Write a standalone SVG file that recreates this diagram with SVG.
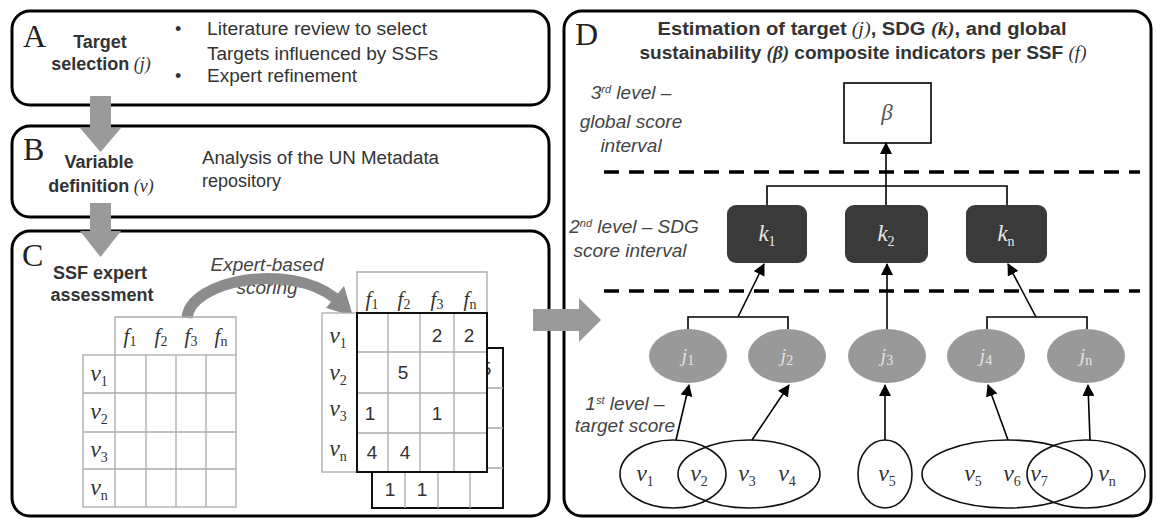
<svg xmlns="http://www.w3.org/2000/svg" width="1156" height="519" viewBox="0 0 1156 519">
<defs>
<marker id="ah" viewBox="0 0 12 12" refX="11" refY="6" markerWidth="12" markerHeight="12" markerUnits="userSpaceOnUse" orient="auto"><path d="M0,0 L12,6 L0,12 z" fill="#000"/></marker>
<style>
.box{fill:#fff;stroke:#000;stroke-width:3}
.t{font-family:"Liberation Sans",Arial,sans-serif;font-size:18px;fill:#333}
.b{font-weight:bold}
.lt{font-family:"Liberation Serif","Times New Roman",serif;font-size:32px;fill:#222}
.m{font-family:"Liberation Serif","Times New Roman",serif;font-style:italic;font-weight:normal}
.mb{font-family:"Liberation Serif","Times New Roman",serif;font-style:italic;font-weight:bold}
.it{font-family:"Liberation Sans",Arial,sans-serif;font-style:italic;font-size:19px;fill:#444}
.g{stroke:#aaa;stroke-width:1.3;fill:none}
.gf{fill:#fff;stroke:#aaa;stroke-width:1.3}
.bk{fill:#fff;stroke:#111;stroke-width:2}
.k{fill:#3a3a3a}
.j{fill:#999}
.conn{stroke:#000;stroke-width:1.6;fill:none}
.ve{stroke:#111;stroke-width:1.6;fill:none}
.dash{stroke:#000;stroke-width:3.5;stroke-dasharray:15 10}
.vl{font-family:"Liberation Serif","Times New Roman",serif;font-style:italic;font-size:24px;fill:#333}
.fl{font-family:"Liberation Serif","Times New Roman",serif;font-style:italic;font-size:21px;fill:#333}
.sub{font-size:14px;font-style:normal}
.num{font-family:"Liberation Sans",Arial,sans-serif;font-size:19px;fill:#333}
.jl{font-family:"Liberation Serif","Times New Roman",serif;font-style:italic;font-size:19px;fill:#e6e6e6}
.kl{font-family:"Liberation Serif","Times New Roman",serif;font-style:italic;font-size:23px;fill:#e6e6e6}
.garrow{fill:#9a9a9a}
</style>
</defs>

<g id="boxA">
<rect class="box" x="12" y="11" width="537" height="94" rx="18"/>
<text class="lt" x="23" y="47">A</text>
<text class="t b" x="100" y="48" text-anchor="middle">Target</text>
<text class="t b" x="101" y="70" text-anchor="middle">selection<tspan class="m"> (j)</tspan></text>
<text class="t" x="175" y="35">•</text>
<text class="t" x="175" y="82">•</text>
<text class="t" x="207" y="35" textLength="220" lengthAdjust="spacingAndGlyphs">Literature review to select</text>
<text class="t" x="207" y="60" textLength="231" lengthAdjust="spacingAndGlyphs">Targets influenced by SSFs</text>
<text class="t" x="207" y="82" textLength="150" lengthAdjust="spacingAndGlyphs">Expert refinement</text>
</g>

<g id="boxB">
<rect class="box" x="12" y="126" width="537" height="91" rx="18"/>
<text class="lt" x="23" y="160">B</text>
<text class="t b" x="99" y="168" text-anchor="middle">Variable</text>
<text class="t b" x="101" y="192" text-anchor="middle">definition<tspan class="m"> (v)</tspan></text>
<text class="t" x="202" y="164" textLength="237" lengthAdjust="spacingAndGlyphs">Analysis of the UN Metadata</text>
<text class="t" x="202" y="187">repository</text>
</g>

<g id="boxC">
<rect class="box" x="12" y="231" width="537" height="285" rx="18"/>
<text class="lt" x="22" y="266">C</text>
<text class="t b" x="100" y="279" text-anchor="middle">SSF expert</text>
<text class="t b" x="102" y="301" text-anchor="middle">assessment</text>
<text class="it" x="267" y="271" text-anchor="middle">Expert-based</text>
<text class="it" x="267" y="294" text-anchor="middle">scoring</text>
<path d="M187,318 C190,280 290,262 335,298" stroke="#8c8c8c" stroke-width="11" fill="none"/>
<polygon points="326,308 344,286 353,316" fill="#8c8c8c"/>

<g id="tableLeft">
<path class="g" d="M115,355 V317 H236 V355"/>
<rect class="g" x="83" y="355" width="153" height="152"/>
<path class="g" d="M115,355 V507 M146,355 V507 M176,355 V507 M206,355 V507 M83,393 H236 M83,432 H236 M83,469 H236"/>
<text class="fl" x="130" y="343" text-anchor="middle">f<tspan class="sub" dy="3">1</tspan></text>
<text class="fl" x="161" y="343" text-anchor="middle">f<tspan class="sub" dy="3">2</tspan></text>
<text class="fl" x="191" y="343" text-anchor="middle">f<tspan class="sub" dy="3">3</tspan></text>
<text class="fl" x="221" y="343" text-anchor="middle">f<tspan class="sub" dy="3">n</tspan></text>
<text class="vl" x="99" y="381" text-anchor="middle">v<tspan class="sub" dy="5">1</tspan></text>
<text class="vl" x="99" y="419" text-anchor="middle">v<tspan class="sub" dy="5">2</tspan></text>
<text class="vl" x="99" y="457" text-anchor="middle">v<tspan class="sub" dy="5">3</tspan></text>
<text class="vl" x="99" y="495" text-anchor="middle">v<tspan class="sub" dy="5">n</tspan></text>
</g>

<g id="tableBack">
<rect class="bk" x="372" y="348" width="131" height="160"/>
<path class="g" d="M405,348 V508 M438,348 V508 M470,348 V508 M372,388 H503 M372,428 H503 M372,468 H503"/>
<text class="num" x="486" y="375" text-anchor="middle">5</text>
<text class="num" x="390" y="496" text-anchor="middle">1</text>
<text class="num" x="422" y="496" text-anchor="middle">1</text>
</g>

<g id="tableFront">
<path class="gf" d="M357,313 V272 H487 V313"/>
<rect class="gf" x="322" y="313" width="35" height="159"/>
<rect fill="#fff" x="357" y="313" width="130" height="159"/>
<path class="g" d="M388,313 V472 M420,313 V472 M454,313 V472 M357,352 H487 M357,393 H487 M357,433 H487"/>
<rect fill="none" stroke="#111" stroke-width="2" x="357" y="313" width="130" height="159"/>
<text class="fl" x="372" y="306" text-anchor="middle">f<tspan class="sub" dy="3">1</tspan></text>
<text class="fl" x="404" y="306" text-anchor="middle">f<tspan class="sub" dy="3">2</tspan></text>
<text class="fl" x="437" y="306" text-anchor="middle">f<tspan class="sub" dy="3">3</tspan></text>
<text class="fl" x="470" y="306" text-anchor="middle">f<tspan class="sub" dy="3">n</tspan></text>
<text class="vl" x="338" y="343" text-anchor="middle">v<tspan class="sub" dy="5">1</tspan></text>
<text class="vl" x="338" y="380" text-anchor="middle">v<tspan class="sub" dy="5">2</tspan></text>
<text class="vl" x="338" y="416" text-anchor="middle">v<tspan class="sub" dy="5">3</tspan></text>
<text class="vl" x="338" y="456" text-anchor="middle">v<tspan class="sub" dy="5">n</tspan></text>
<text class="num" x="437" y="342" text-anchor="middle">2</text>
<text class="num" x="469" y="342" text-anchor="middle">2</text>
<text class="num" x="403" y="379" text-anchor="middle">5</text>
<text class="num" x="370" y="420" text-anchor="middle">1</text>
<text class="num" x="437" y="420" text-anchor="middle">1</text>
<text class="num" x="372" y="459" text-anchor="middle">4</text>
<text class="num" x="405" y="459" text-anchor="middle">4</text>
</g>
</g>

<g id="boxD">
<rect class="box" x="564" y="11" width="587" height="505" rx="18"/>
<text class="lt" x="575" y="45">D</text>
<text class="t b" x="862" y="35" text-anchor="middle" font-size="17" textLength="409" lengthAdjust="spacingAndGlyphs">Estimation of target<tspan class="m"> (j)</tspan>, SDG <tspan class="mb">(k)</tspan>, and global</text>
<text class="t b" x="863" y="59" text-anchor="middle" font-size="17" textLength="447" lengthAdjust="spacingAndGlyphs">sustainability <tspan class="mb">(β)</tspan> composite indicators per SSF <tspan class="m">(f)</tspan></text>
<text class="it" x="631" y="99" text-anchor="middle">3<tspan font-size="11" dy="-6">rd</tspan><tspan dy="6"> level –</tspan></text>
<text class="it" x="631" y="128" text-anchor="middle">global score</text>
<text class="it" x="631" y="152" text-anchor="middle">interval</text>
<text class="it" x="634" y="233" text-anchor="middle">2<tspan font-size="11" dy="-6">nd</tspan><tspan dy="6"> level – SDG</tspan></text>
<text class="it" x="630" y="257" text-anchor="middle">score interval</text>
<text class="it" x="625" y="410" text-anchor="middle">1<tspan font-size="11" dy="-6">st</tspan><tspan dy="6"> level –</tspan></text>
<text class="it" x="625" y="432" text-anchor="middle">target score</text>
<line class="dash" x1="604" y1="172" x2="1140" y2="172"/>
<line class="dash" x1="604" y1="291" x2="1140" y2="291"/>
</g>

<g id="beta">
<rect x="844" y="83" width="87" height="60" fill="#fff" stroke="#000" stroke-width="1.6"/>
<text class="kl" x="887" y="120" text-anchor="middle" style="fill:#555">β</text>
</g>
<g id="k1"><rect class="k" x="727" y="205" width="80" height="58" rx="9"/><text class="kl" x="767" y="241" text-anchor="middle">k<tspan class="sub" dy="5">1</tspan></text></g>
<g id="k2"><rect class="k" x="845" y="205" width="83" height="58" rx="9"/><text class="kl" x="886" y="241" text-anchor="middle">k<tspan class="sub" dy="5">2</tspan></text></g>
<g id="kn"><rect class="k" x="966" y="205" width="81" height="58" rx="9"/><text class="kl" x="1006" y="241" text-anchor="middle">k<tspan class="sub" dy="5">n</tspan></text></g>

<g id="j1"><ellipse class="j" cx="688" cy="356" rx="39" ry="27"/><text class="jl" x="688" y="362" text-anchor="middle">j<tspan class="sub" dy="3">1</tspan></text></g>
<g id="j2"><ellipse class="j" cx="787" cy="356" rx="39" ry="27"/><text class="jl" x="787" y="362" text-anchor="middle">j<tspan class="sub" dy="3">2</tspan></text></g>
<g id="j3"><ellipse class="j" cx="887" cy="356" rx="39" ry="27"/><text class="jl" x="887" y="362" text-anchor="middle">j<tspan class="sub" dy="3">3</tspan></text></g>
<g id="j4"><ellipse class="j" cx="986" cy="356" rx="39" ry="27"/><text class="jl" x="986" y="362" text-anchor="middle">j<tspan class="sub" dy="3">4</tspan></text></g>
<g id="jn"><ellipse class="j" cx="1086" cy="356" rx="39" ry="27"/><text class="jl" x="1086" y="362" text-anchor="middle">j<tspan class="sub" dy="3">n</tspan></text></g>

<g id="vsets">
<ellipse class="ve" cx="673" cy="474" rx="53" ry="34"/>
<ellipse class="ve" cx="749" cy="474" rx="71" ry="34"/>
<ellipse class="ve" cx="885" cy="474" rx="27" ry="34"/>
<ellipse class="ve" cx="1007" cy="474" rx="85" ry="34"/>
<ellipse class="ve" cx="1086" cy="474" rx="59" ry="34"/>
<text class="vl" x="645" y="481" text-anchor="middle">v<tspan class="sub" dy="5">1</tspan></text>
<text class="vl" x="699" y="481" text-anchor="middle">v<tspan class="sub" dy="5">2</tspan></text>
<text class="vl" x="747" y="481" text-anchor="middle">v<tspan class="sub" dy="5">3</tspan></text>
<text class="vl" x="787" y="481" text-anchor="middle">v<tspan class="sub" dy="5">4</tspan></text>
<text class="vl" x="887" y="481" text-anchor="middle">v<tspan class="sub" dy="5">5</tspan></text>
<text class="vl" x="973" y="481" text-anchor="middle">v<tspan class="sub" dy="5">5</tspan></text>
<text class="vl" x="1012" y="481" text-anchor="middle">v<tspan class="sub" dy="5">6</tspan></text>
<text class="vl" x="1039" y="481" text-anchor="middle">v<tspan class="sub" dy="5">7</tspan></text>
<text class="vl" x="1107" y="481" text-anchor="middle">v<tspan class="sub" dy="5">n</tspan></text>
</g>

<g id="connectors">
<polygon class="garrow" points="90,96 111,96 111,128 121,128 100.5,152 80,128 90,128"/>
<polygon class="garrow" points="90,203 111,203 111,231 121,231 100.5,257 80,231 90,231"/>
<polygon class="garrow" points="533,309 579,309 579,298 601,320 579,342 579,331 533,331"/>
<path class="conn" d="M767,205 V186 H1007 V205"/>
<path class="conn" d="M886,205 V143" marker-end="url(#ah)"/>
<path class="conn" d="M688,329 V317 H788 V329"/>
<path class="conn" d="M738,317 L764,264" marker-end="url(#ah)"/>
<path class="conn" d="M887,329 V264" marker-end="url(#ah)"/>
<path class="conn" d="M987,329 V317 H1087 V329"/>
<path class="conn" d="M1036,317 L1008,264" marker-end="url(#ah)"/>
<path class="conn" d="M676,440 L689,385" marker-end="url(#ah)"/>
<path class="conn" d="M752,440 L789,385" marker-end="url(#ah)"/>
<path class="conn" d="M885,440 V385" marker-end="url(#ah)"/>
<path class="conn" d="M1008,440 L988,385" marker-end="url(#ah)"/>
<path class="conn" d="M1090,440 L1088,385" marker-end="url(#ah)"/>
</g>
</svg>
